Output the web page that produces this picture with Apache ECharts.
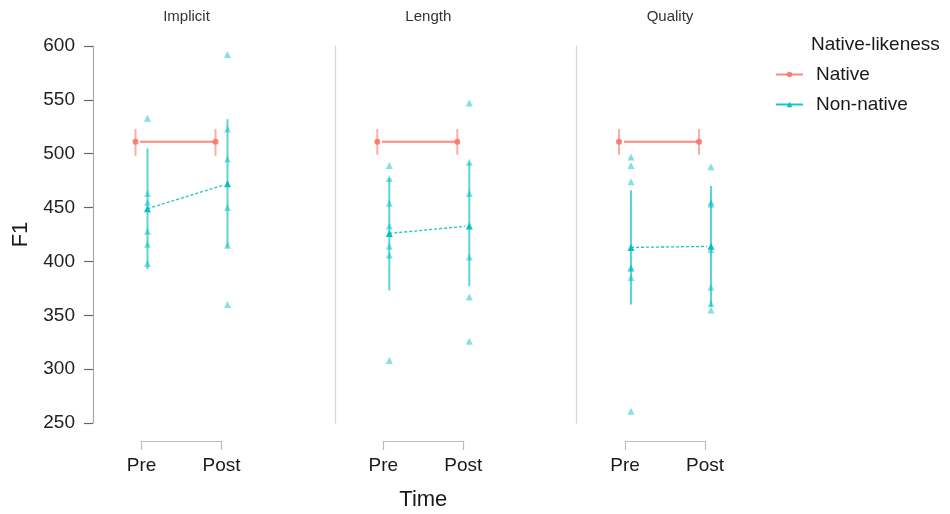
<!DOCTYPE html>
<html>
<head>
<meta charset="utf-8">
<script src="https://cdn.jsdelivr.net/npm/echarts@6/dist/echarts.min.js"></script>
<style>
  html, body { margin: 0; padding: 0; background: #fff; }
  #chart { width: 950px; height: 514px; }
</style>
</head>
<body>
<div id="chart"></div>
<script>
// Facets, time points and F1 values (Hz)
const facets = ['Implicit', 'Length', 'Quality'];
const times = ['Pre', 'Post'];
const yTicks = [250, 300, 350, 400, 450, 500, 550, 600];

// Native speakers: mean and interval per facet, [Pre, Post]
const nativeMean = [[511, 511], [511, 511], [511, 511]];
const nativeLow  = [[498, 498], [499, 499], [499, 499]];
const nativeHigh = [[523, 523], [523, 523], [523, 523]];

// Non-native speakers: mean and interval per facet, [Pre, Post]
const nonNativeMean = [[449, 472], [426, 433], [413, 414]];
const nonNativeLow  = [[393, 413], [373, 377], [360, 358]];
const nonNativeHigh = [[505, 532], [477, 492], [466, 470]];

// Individual non-native speakers per facet
const implicitPre  = [533, 463, 455, 428, 416, 398];
const implicitPost = [592, 523, 495, 450, 415, 360];
const lengthPre    = [489, 477, 454, 433, 414, 406, 308];
const lengthPost   = [547, 492, 463, 404, 367, 326];
const qualityPre   = [497, 489, 474, 394, 394, 385, 261];
const qualityPost  = [488, 455, 453, 411, 376, 361, 355];
const speakerPoints = [
  [implicitPre, implicitPost],
  [lengthPre, lengthPost],
  [qualityPre, qualityPost]
];

const FONT = 'Liberation Sans, Arial, Helvetica, sans-serif';
const DODGE = 0.075;          // horizontal dodge between groups, in x units
const PANEL_LEFT = [93, 334.8, 576.5];
const INSET = 48.5;           // panel edge to first time point, px
const STEP = 80;              // px between Pre and Post

const chart = echarts.init(document.getElementById('chart'), null, { renderer: 'canvas' });

function errorBars(name, gi, x0, low, high, color) {
  return {
    name: name,
    type: 'custom',
    xAxisIndex: gi,
    yAxisIndex: gi,
    clip: false,
    z: 3,
    encode: { x: 0, y: [1, 2] },
    data: times.map((t, k) => [k + 1 + x0, low[k], high[k]]),
    renderItem: function (params, api) {
      const a = api.coord([api.value(0), api.value(1)]);
      const b = api.coord([api.value(0), api.value(2)]);
      return {
        type: 'line',
        shape: { x1: a[0], y1: a[1], x2: b[0], y2: b[1] },
        style: { stroke: color, lineWidth: 2 }
      };
    }
  };
}

const grids = [], xAxes = [], yAxes = [], series = [], titles = [];

facets.forEach((facet, gi) => {
  const left = PANEL_LEFT[gi] + INSET;
  grids.push({ left: left, width: STEP, top: 46, height: 377, containLabel: false, outerBoundsMode: 'none' });

  xAxes.push({
    type: 'value', gridIndex: gi, min: 1, max: 2, interval: 1,
    position: 'bottom', offset: 18,
    name: gi === 1 ? 'Time' : '',
    nameLocation: 'middle', nameGap: 48,
    nameTextStyle: { fontFamily: FONT, fontSize: 22, color: '#1a1a1a' },
    axisLine: { show: true, lineStyle: { color: '#bdbdbd', width: 1.2 } },
    axisTick: { show: true, length: 9, lineStyle: { color: '#bdbdbd', width: 1.2 } },
    axisLabel: {
      margin: 15, fontFamily: FONT, fontSize: 19, color: '#1a1a1a',
      formatter: v => times[Math.round(v) - 1] || ''
    },
    splitLine: { show: false }
  });

  yAxes.push({
    type: 'value', gridIndex: gi, min: yTicks[0], max: yTicks[yTicks.length - 1], interval: 50,
    position: 'left', offset: INSET,
    name: gi === 0 ? 'F1' : '',
    nameLocation: 'middle', nameGap: 61, nameRotate: 90,
    nameTextStyle: { fontFamily: FONT, fontSize: 22, color: '#1a1a1a' },
    axisLine: { show: true, lineStyle: { color: gi === 0 ? '#a8a8a8' : '#d6d6d6', width: 1.2 } },
    axisTick: { show: gi === 0, length: 9, lineStyle: { color: '#666', width: 1.2 } },
    axisLabel: { show: gi === 0, margin: 18, fontFamily: FONT, fontSize: 19, color: '#222' },
    splitLine: { show: false }
  });

  titles.push({
    text: facet, left: left + STEP / 2, top: 4, textAlign: 'center',
    textStyle: { fontFamily: FONT, fontSize: 15, fontWeight: 'normal', color: '#333' }
  });

  // mean lines with markers
  series.push({
    name: 'Native', type: 'line', xAxisIndex: gi, yAxisIndex: gi, clip: false, z: 4,
    data: times.map((t, k) => [k + 1 - DODGE, nativeMean[gi][k]]),
    symbol: 'circle', symbolSize: 6,
    itemStyle: { color: 'rgba(248,118,109,0.9)' },
    lineStyle: { color: 'rgba(248,118,109,0.85)', width: 2 }
  });
  series.push({
    name: 'Non-native', type: 'line', xAxisIndex: gi, yAxisIndex: gi, clip: false, z: 4,
    data: times.map((t, k) => [k + 1 + DODGE, nonNativeMean[gi][k]]),
    symbol: 'triangle', symbolSize: 7,
    itemStyle: { color: 'rgba(0,191,196,0.95)' },
    lineStyle: { color: 'rgba(0,191,196,0.9)', width: 1.3, type: [3, 2] }
  });

  series.push(errorBars('Native interval', gi, -DODGE, nativeLow[gi], nativeHigh[gi], 'rgba(248,118,109,0.6)'));
  series.push(errorBars('Non-native interval', gi, DODGE, nonNativeLow[gi], nonNativeHigh[gi], 'rgba(0,191,196,0.65)'));

  // individual speakers
  const pts = [];
  speakerPoints[gi].forEach((vals, k) => vals.forEach(v => pts.push([k + 1 + DODGE, v])));
  series.push({
    name: 'Non-native speakers', type: 'scatter', xAxisIndex: gi, yAxisIndex: gi, clip: false, z: 2,
    data: pts, symbol: 'triangle', symbolSize: 7,
    itemStyle: { color: 'rgba(0,191,196,0.6)' }
  });
});

titles.push({
  text: 'Native-likeness', left: 806, top: 30,
  textStyle: { fontFamily: FONT, fontSize: 19, fontWeight: 'normal', color: '#1a1a1a' }
});

chart.setOption({
  animation: false,
  backgroundColor: '#fff',
  title: titles,
  grid: grids,
  xAxis: xAxes,
  yAxis: yAxes,
  legend: {
    data: ['Native', 'Non-native'],
    orient: 'vertical', left: 770, top: 60,
    itemWidth: 27, itemHeight: 7, itemGap: 11,
    lineStyle: { type: 'solid', width: 2 },
    textStyle: { fontFamily: FONT, fontSize: 19, color: '#1a1a1a', padding: [0, 0, 0, 8] }
  },
  series: series
});
</script>
</body>
</html>
